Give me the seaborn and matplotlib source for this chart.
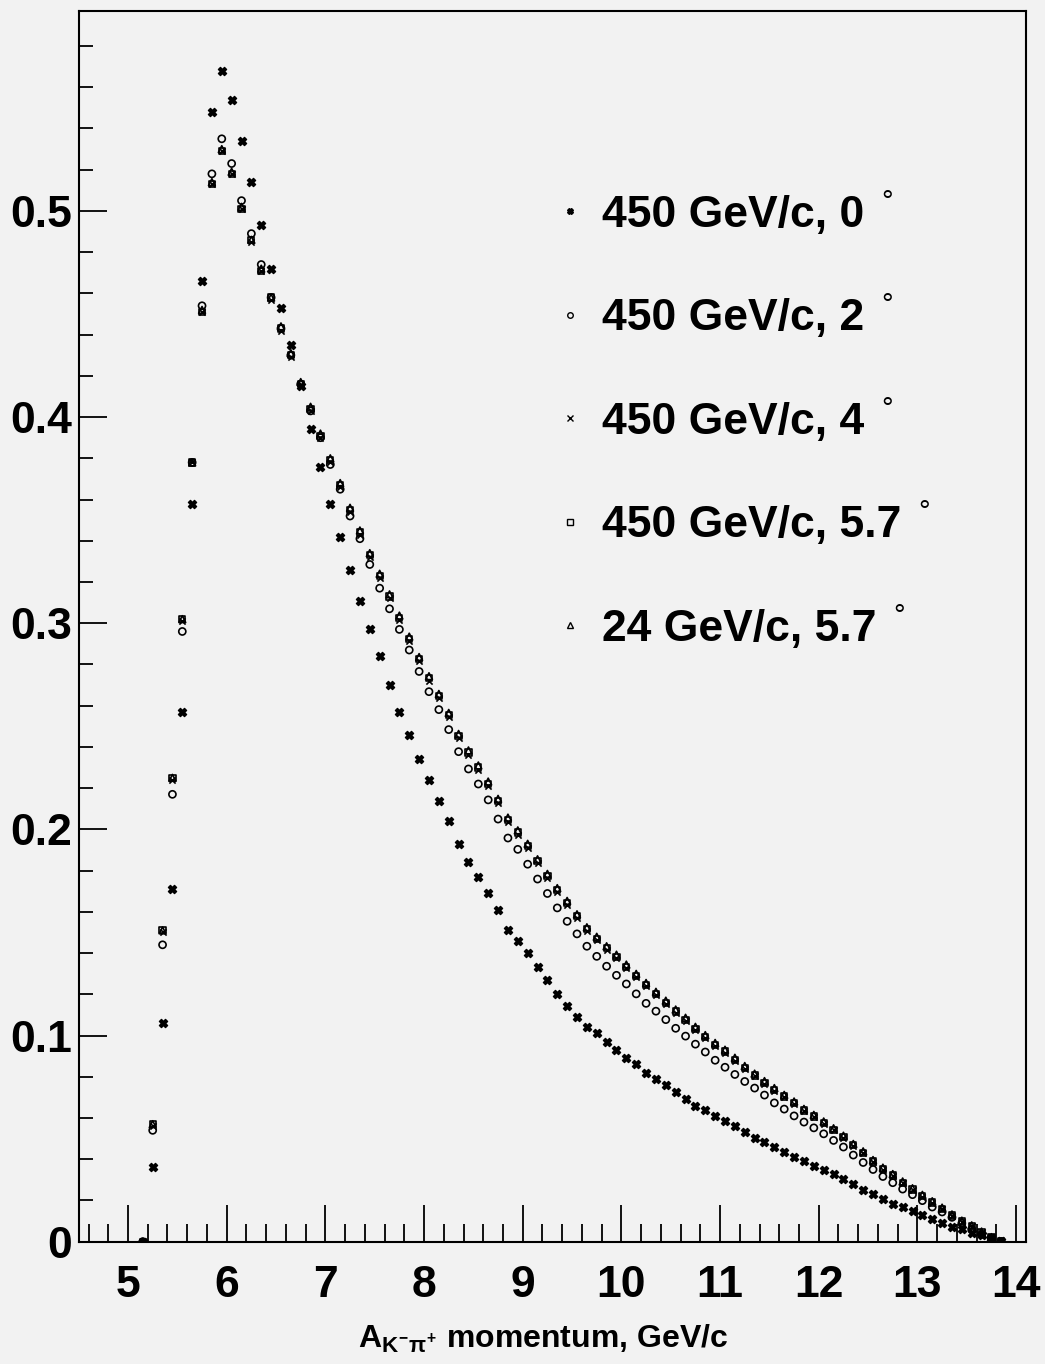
import numpy as np
import pandas as pd
import matplotlib
matplotlib.use("Agg")
import matplotlib.pyplot as plt
import seaborn as sns
from matplotlib.lines import Line2D
from matplotlib.ticker import MultipleLocator

# bin centres, 0.1 GeV/c wide, first bin centred at 5.15
momentum = np.round(5.15 + 0.1 * np.arange(88), 2)

labels = [
    "450 GeV/c, 0",
    "450 GeV/c, 2",
    "450 GeV/c, 4",
    "450 GeV/c, 5.7",
    "24 GeV/c, 5.7",
]

p450_0deg = [
    0.000, 0.036, 0.106, 0.171, 0.257, 0.358, 0.466, 0.548, 0.568, 0.554,
    0.534, 0.514, 0.493, 0.472, 0.453, 0.435, 0.415, 0.394, 0.376, 0.358,
    0.342, 0.326, 0.311, 0.297, 0.284, 0.270, 0.257, 0.246, 0.234, 0.224,
    0.214, 0.204, 0.193, 0.184, 0.177, 0.169, 0.161, 0.151, 0.146, 0.140,
    0.133, 0.127, 0.120, 0.1145, 0.109, 0.104, 0.101, 0.097, 0.093, 0.089,
    0.086, 0.082, 0.079, 0.076, 0.0725, 0.069, 0.066, 0.0637, 0.061, 0.0586,
    0.0559, 0.0531, 0.0502, 0.0483, 0.0457, 0.0434, 0.0413, 0.0389, 0.0368, 0.0347,
    0.0328, 0.0304, 0.0278, 0.0252, 0.0231, 0.0208, 0.0184, 0.0166, 0.0147, 0.0127,
    0.0108, 0.0091, 0.0073, 0.0060, 0.0044, 0.0031, 0.0018, 0.0001,
]

p450_2deg = [
    0.000, 0.054, 0.144, 0.217, 0.296, 0.378, 0.454, 0.518, 0.535, 0.523,
    0.505, 0.489, 0.474, 0.458, 0.443, 0.430, 0.416, 0.403, 0.390, 0.377,
    0.365, 0.352, 0.341, 0.3285, 0.317, 0.307, 0.297, 0.287, 0.2766, 0.2668,
    0.2581, 0.2484, 0.2377, 0.2293, 0.2220, 0.2143, 0.2050, 0.1958, 0.1903, 0.1831,
    0.1759, 0.1689, 0.1619, 0.1554, 0.1493, 0.1433, 0.1384, 0.1336, 0.1292, 0.1250,
    0.1202, 0.1156, 0.1118, 0.1077, 0.1035, 0.0997, 0.0958, 0.0920, 0.0880, 0.0846,
    0.0811, 0.0777, 0.0745, 0.0711, 0.0673, 0.0643, 0.0610, 0.0580, 0.0552, 0.0523,
    0.0491, 0.0459, 0.0420, 0.0384, 0.0350, 0.0316, 0.0286, 0.0255, 0.0228, 0.0199,
    0.0168, 0.0144, 0.0118, 0.0089, 0.0058, 0.0035, 0.0015, 0.0000,
]

p450_4deg = [
    0.000, 0.056, 0.150, 0.224, 0.301, 0.378, 0.451, 0.513, 0.529, 0.518,
    0.501, 0.485, 0.471, 0.457, 0.442, 0.429, 0.415, 0.403, 0.390, 0.378,
    0.366, 0.354, 0.343, 0.332, 0.322, 0.312, 0.3015, 0.2915, 0.2815, 0.2722,
    0.2637, 0.2545, 0.2442, 0.2363, 0.2290, 0.2212, 0.2127, 0.2037, 0.1975, 0.1910,
    0.1836, 0.1765, 0.1696, 0.1634, 0.1570, 0.1507, 0.1461, 0.1415, 0.1375, 0.1327,
    0.1282, 0.1238, 0.1195, 0.1153, 0.1110, 0.1070, 0.1027, 0.0987, 0.0950, 0.0917,
    0.0878, 0.0839, 0.0802, 0.0766, 0.0732, 0.0700, 0.0668, 0.0633, 0.0604, 0.0572,
    0.0540, 0.0504, 0.0465, 0.0429, 0.0387, 0.0350, 0.0319, 0.0284, 0.0251, 0.0219,
    0.0188, 0.0158, 0.0126, 0.0097, 0.0075, 0.0046, 0.0020, 0.0001,
]

p450_57deg = [
    0.000, 0.057, 0.151, 0.225, 0.302, 0.378, 0.451, 0.513, 0.529, 0.518,
    0.501, 0.486, 0.471, 0.458, 0.443, 0.430, 0.416, 0.404, 0.391, 0.379,
    0.367, 0.355, 0.344, 0.333, 0.323, 0.313, 0.3027, 0.2925, 0.2826, 0.2733,
    0.2647, 0.2555, 0.2453, 0.2373, 0.2300, 0.2222, 0.2138, 0.2047, 0.1985, 0.1920,
    0.1845, 0.1774, 0.1705, 0.1643, 0.1578, 0.1515, 0.1469, 0.1423, 0.1382, 0.1334,
    0.1289, 0.1245, 0.1202, 0.1159, 0.1116, 0.1076, 0.1032, 0.0992, 0.0955, 0.0922,
    0.0883, 0.0843, 0.0806, 0.0770, 0.0736, 0.0704, 0.0672, 0.0636, 0.0607, 0.0575,
    0.0543, 0.0507, 0.0467, 0.0431, 0.0389, 0.0352, 0.0321, 0.0286, 0.0253, 0.0221,
    0.0190, 0.0160, 0.0127, 0.0098, 0.0076, 0.0047, 0.0021, 0.0001,
]

p24_57deg = [
    0.000, 0.057, 0.151, 0.225, 0.302, 0.378, 0.452, 0.514, 0.530, 0.519,
    0.502, 0.486, 0.472, 0.458, 0.444, 0.431, 0.417, 0.405, 0.392, 0.380,
    0.368, 0.356, 0.345, 0.334, 0.324, 0.314, 0.3037, 0.2935, 0.2836, 0.2743,
    0.2657, 0.2565, 0.2463, 0.2383, 0.2310, 0.2232, 0.2148, 0.2057, 0.1995, 0.1930,
    0.1855, 0.1784, 0.1715, 0.1653, 0.1588, 0.1525, 0.1479, 0.1433, 0.1392, 0.1344,
    0.1299, 0.1255, 0.1212, 0.1169, 0.1126, 0.1086, 0.1042, 0.1002, 0.0964, 0.0931,
    0.0892, 0.0852, 0.0815, 0.0779, 0.0745, 0.0712, 0.0680, 0.0644, 0.0615, 0.0583,
    0.0550, 0.0514, 0.0474, 0.0438, 0.0396, 0.0359, 0.0328, 0.0292, 0.0259, 0.0227,
    0.0196, 0.0165, 0.0132, 0.0102, 0.0079, 0.0049, 0.0022, 0.0001,
]

values = [p450_0deg, p450_2deg, p450_4deg, p450_57deg, p24_57deg]

df = pd.concat(
    [
        pd.DataFrame({"momentum": momentum, "value": v, "series": lab})
        for lab, v in zip(labels, values)
    ],
    ignore_index=True,
)

# marker, size, filled
styles = {
    labels[0]: ("X", 34, True),
    labels[1]: ("o", 26, False),
    labels[2]: ("x", 20, True),
    labels[3]: ("s", 20, False),
    labels[4]: ("^", 24, False),
}

bg = "#f2f2f2"

sns.set_style("ticks")
plt.rcParams["font.family"] = ["Liberation Sans", "DejaVu Sans"]
plt.rcParams["font.weight"] = "bold"
plt.rcParams["text.color"] = "black"
plt.rcParams["axes.labelcolor"] = "black"
plt.rcParams["xtick.color"] = "black"
plt.rcParams["ytick.color"] = "black"
plt.rcParams["mathtext.fontset"] = "custom"
plt.rcParams["mathtext.rm"] = "Liberation Sans:bold"
plt.rcParams["mathtext.it"] = "Liberation Sans:bold"
plt.rcParams["mathtext.bf"] = "Liberation Sans:bold"

fig = plt.figure(figsize=(10.45, 13.64), dpi=100, facecolor=bg)
ax = fig.add_axes([0.0753, 0.0897, 0.9818 - 0.0753, 0.99194 - 0.0897])
ax.set_facecolor(bg)

for lab in labels:
    marker, size, filled = styles[lab]
    sub = df[df["series"] == lab]
    kws = dict(marker=marker, s=size, color="black", linewidth=1.2)
    if marker in ("o", "s", "^"):
        kws.update(facecolor="none", edgecolor="black")
    elif marker == "X":
        kws.update(edgecolor="black", linewidth=1.0)
    sns.scatterplot(data=sub, x="momentum", y="value", ax=ax, legend=False, **kws)

ax.set_xlim(4.5, 14.1)
ax.set_ylim(0, 0.597)

ax.xaxis.set_major_locator(MultipleLocator(1))
ax.xaxis.set_minor_locator(MultipleLocator(0.2))
ax.yaxis.set_major_locator(MultipleLocator(0.1))
ax.yaxis.set_minor_locator(MultipleLocator(0.02))
ax.set_yticks([0, 0.1, 0.2, 0.3, 0.4, 0.5])
ax.set_yticklabels(["0", "0.1", "0.2", "0.3", "0.4", "0.5"])

ax.tick_params(axis="x", which="major", direction="in", length=26.5, width=1.3,
               labelsize=32, pad=17, top=False)
ax.tick_params(axis="x", which="minor", direction="in", length=13, width=1.3, top=False)
ax.tick_params(axis="y", which="major", direction="in", length=20, width=1.3,
               labelsize=32, pad=5, right=False)
ax.tick_params(axis="y", which="minor", direction="in", length=10, width=1.3, right=False)

for sp in ax.spines.values():
    sp.set_visible(True)
    sp.set_linewidth(1.5)
    sp.set_color("black")

ax.set_ylabel("")
ax.set_xlabel(r"$A_{K^{-}\pi^{+}}$ momentum, GeV/c", fontsize=23, fontweight="bold")
ax.xaxis.set_label_coords(0.49, -0.066)

handles = []
for lab in labels:
    marker, size, filled = styles[lab]
    handles.append(
        Line2D([], [], linestyle="none", marker=marker, markersize=4,
               markerfacecolor="black" if filled else "none",
               markeredgecolor="black", markeredgewidth=1.0)
    )

leg = ax.legend(
    handles, labels,
    loc="upper left", bbox_to_anchor=(0.5074, 0.8505),
    frameon=False, prop=dict(size=32, weight="bold"),
    handlelength=0.5, handletextpad=0.45, labelspacing=1.405,
    borderaxespad=0, borderpad=0,
)

# degree signs, placed after layout next to each legend entry
fig.canvas.draw()
renderer = fig.canvas.get_renderer()
W, H = fig.bbox.width, fig.bbox.height
for txt in leg.get_texts():
    bb = txt.get_window_extent(renderer)
    fig.text((bb.x1 + 23) / W, (bb.y1 + 7) / H, "°", ha="center", va="top",
             fontsize=21, fontweight="normal")

fig.savefig("out.png", dpi=100, facecolor=bg)
